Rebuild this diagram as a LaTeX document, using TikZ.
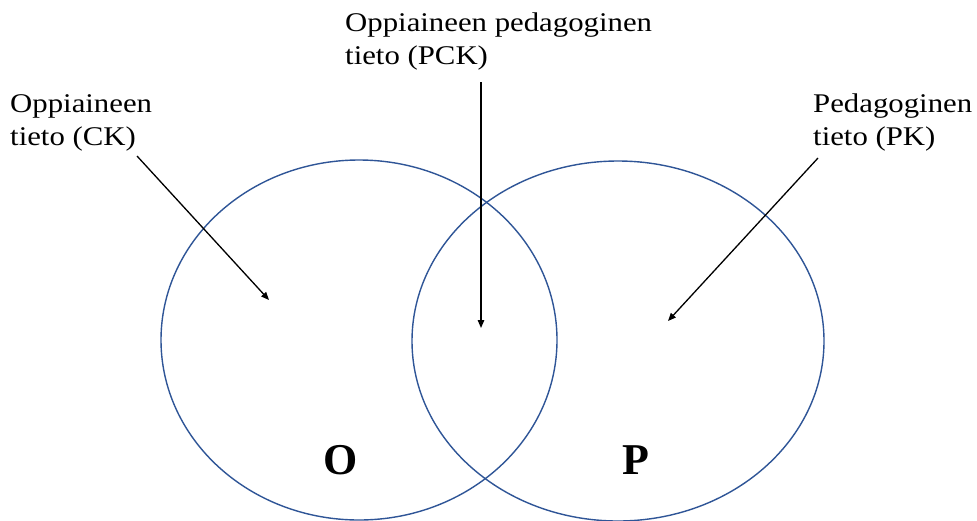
\documentclass[tikz,border=0pt]{standalone}
\usepackage{fontspec}
\setmainfont{Liberation Serif}
\newfontfamily\labfont[FakeStretch=1.14]{Liberation Serif}
\usetikzlibrary{arrows.meta}
\definecolor{vennblue}{RGB}{47,85,151}
\begin{document}
\begin{tikzpicture}[x=1pt,y=-1pt,
  venn/.style={draw=vennblue,line width=1.4pt},
  pointer/.style={draw=black,line width=1.3pt,-{Triangle[length=8pt,width=6.5pt]}},
  lbl/.style={font=\labfont\fontsize{27}{33}\selectfont,align=left,inner sep=0pt,anchor=base west},
  bigletter/.style={font=\fontsize{44}{48}\selectfont\bfseries,inner sep=0pt,anchor=base}]
\useasboundingbox (0,0) rectangle (977,520);
\fill[white] (0,0) rectangle (977,520);
% circles
\draw[venn] (359,340) ellipse [x radius=198, y radius=180];
\draw[venn] (618,341) ellipse [x radius=206, y radius=180];
% labels (anchor = baseline of the last line)
\node[lbl] (ck) at (10,145) {Oppiaineen\\tieto (CK)};
\node[lbl] (pck) at (345,64) {Oppiaineen pedagoginen\\tieto (PCK)};
\node[lbl] (pk) at (813,145) {Pedagoginen\\tieto (PK)};
\node[bigletter] (O) at (341,474) {O};
\node[bigletter] (P) at (636,474) {P};
% pointers
\coordinate (ckstart) at (137,156);
\coordinate (ckend) at (269,300);
\coordinate (pckstart) at (481,82);
\coordinate (pckend) at (481,328);
\coordinate (pkstart) at (818,158);
\coordinate (pkend) at (668,321);
\draw[pointer] (ckstart) -- (ckend);
\draw[pointer] (pckstart) -- (pckend);
\draw[pointer] (pkstart) -- (pkend);
\end{tikzpicture}
\end{document}
